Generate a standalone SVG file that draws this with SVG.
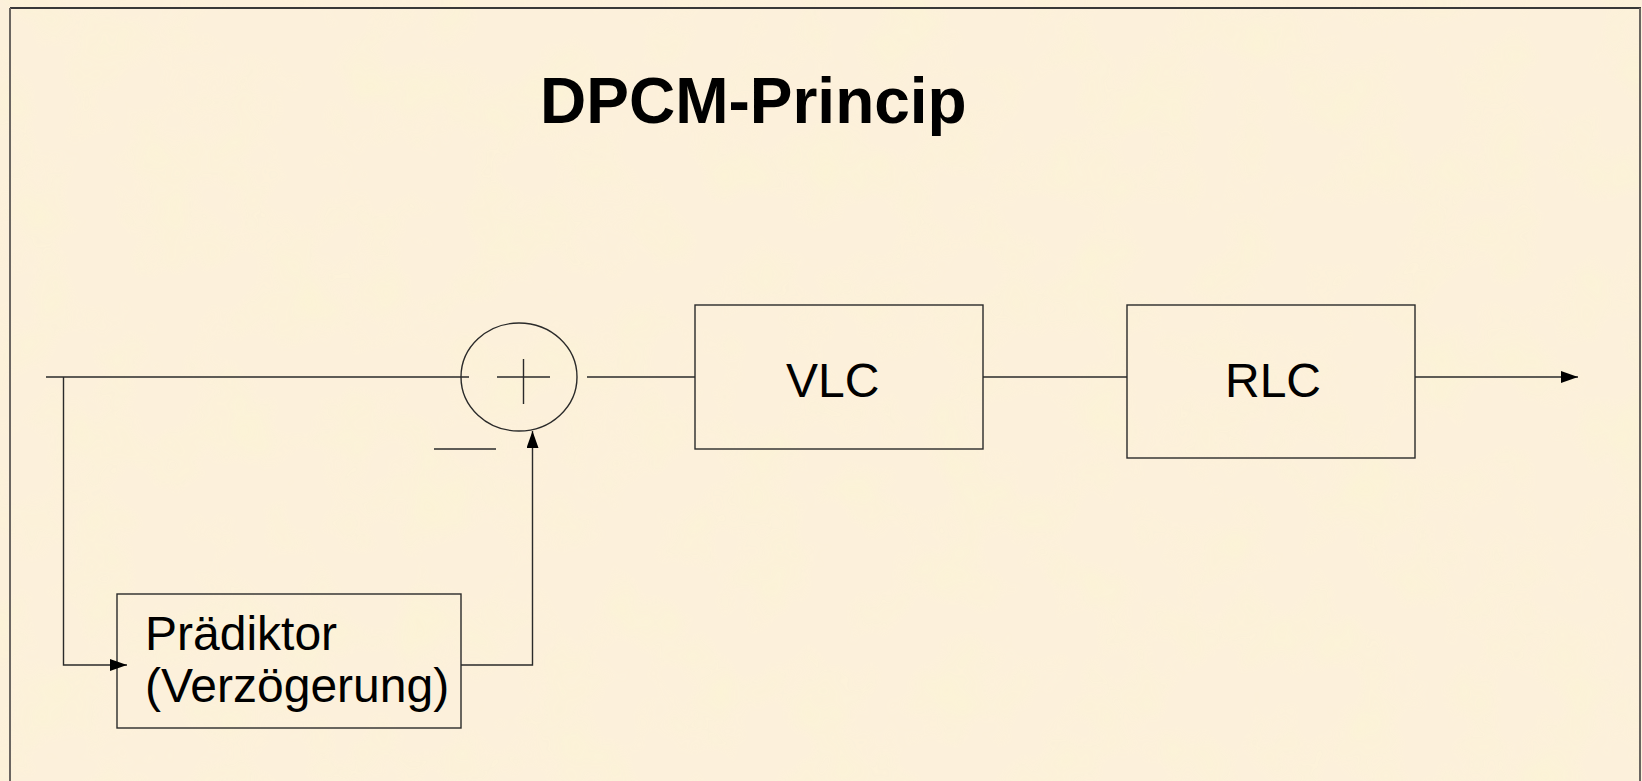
<svg xmlns="http://www.w3.org/2000/svg" width="1642" height="781" viewBox="0 0 1642 781">
  <style>
    .wire { fill: none; stroke: #2a2a2a; stroke-width: 1.4; }
    .box { fill: none; stroke: #2a2a2a; stroke-width: 1.4; }
    .label { font-family: "Liberation Sans", Arial, sans-serif; font-size: 48px; fill: #000; }
    .title { font-family: "Liberation Sans", Arial, sans-serif; font-size: 64px; font-weight: bold; fill: #000; }
  </style>
  <defs>
    <marker id="arrow" markerUnits="userSpaceOnUse" markerWidth="18" markerHeight="13" refX="17" refY="6" orient="auto">
      <path d="M0,0 L17,6 L0,12 z" fill="#000"/>
    </marker>
    <!-- soft parchment mottling -->
    <filter id="parchment" x="0" y="0" width="100%" height="100%">
      <feTurbulence type="fractalNoise" baseFrequency="0.015" numOctaves="3" seed="7" result="noise"/>
      <feColorMatrix in="noise" type="matrix" values="0 0 0 0 0.97  0 0 0 0 0.91  0 0 0 0 0.66  0 0 0 1.8 -0.8" result="spots"/>
      <feComposite in="spots" in2="SourceGraphic" operator="in"/>
    </filter>
  </defs>

  <!-- background -->
  <rect x="0" y="0" width="1642" height="781" fill="#fcf0db"/>
  <rect x="0" y="0" width="1642" height="781" fill="#fff" filter="url(#parchment)" opacity="0.8"/>

  <!-- page frame -->
  <g id="frame">
    <line x1="10" y1="8" x2="1641" y2="8" stroke="#383838" stroke-width="2"/>
    <line x1="10" y1="8" x2="10" y2="781" stroke="#6a6560" stroke-width="2"/>
    <line x1="1640" y1="8" x2="1640" y2="781" stroke="#6a6560" stroke-width="2"/>
  </g>

  <text class="title" x="540" y="123">DPCM-Princip</text>

  <!-- summing junction -->
  <g id="sum">
    <ellipse cx="519" cy="377" rx="58" ry="54" class="box"/>
    <line x1="497" y1="377" x2="550" y2="377" class="wire"/>
    <line x1="523.5" y1="359" x2="523.5" y2="404" class="wire"/>
    <!-- minus sign for the fed-back input -->
    <line x1="434" y1="449" x2="496" y2="449" class="wire"/>
  </g>

  <g id="vlc">
    <rect x="695" y="305" width="288" height="144" class="box"/>
    <text class="label" x="786" y="397">VLC</text>
  </g>

  <g id="rlc">
    <rect x="1127" y="305" width="288" height="153" class="box"/>
    <text class="label" x="1225" y="397">RLC</text>
  </g>

  <g id="praediktor">
    <rect x="117" y="594" width="344" height="134" class="box"/>
    <text class="label" x="145" y="650">Prädiktor</text>
    <text class="label" x="145" y="702">(Verzögerung)</text>
  </g>

  <g id="connectors">
    <line x1="46" y1="377" x2="469" y2="377" class="wire"/>
    <polyline points="63.5,377 63.5,665 127,665" class="wire" marker-end="url(#arrow)"/>
    <polyline points="461,665 532.5,665 532.5,431" class="wire" marker-end="url(#arrow)"/>
    <line x1="587" y1="377" x2="695" y2="377" class="wire"/>
    <line x1="983" y1="377" x2="1127" y2="377" class="wire"/>
    <line x1="1415" y1="377" x2="1578" y2="377" class="wire" marker-end="url(#arrow)"/>
  </g>
</svg>
